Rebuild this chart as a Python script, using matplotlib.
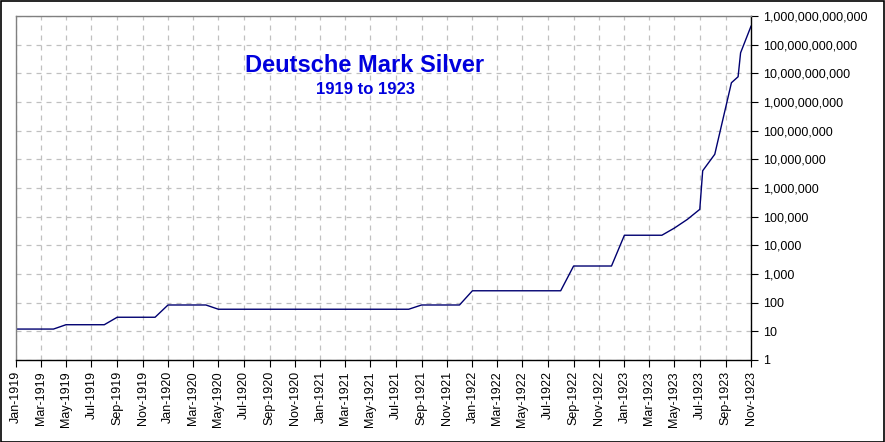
import matplotlib
matplotlib.use("Agg")
import matplotlib.pyplot as plt
import matplotlib.dates as mdates
import matplotlib.ticker as mticker
from matplotlib.patches import Rectangle
import numpy as np
import datetime as dt

plt.rcParams['font.family'] = ['Liberation Sans', 'DejaVu Sans']

# Data: date, value (paper marks per silver mark, log scale)
dates = [
    "1919-01-01", "1919-02-01", "1919-03-01", "1919-04-01", "1919-05-01", "1919-06-01",
    "1919-07-01", "1919-08-01", "1919-09-01", "1919-10-01", "1919-11-01", "1919-12-01",
    "1920-01-01", "1920-02-01", "1920-03-01", "1920-04-01", "1920-05-01", "1920-06-01",
    "1920-07-01", "1920-08-01", "1920-09-01", "1920-10-01", "1920-11-01", "1920-12-01",
    "1921-01-01", "1921-02-01", "1921-03-01", "1921-04-01", "1921-05-01", "1921-06-01",
    "1921-07-01", "1921-08-01", "1921-09-01", "1921-10-01", "1921-11-01", "1921-12-01",
    "1922-01-01", "1922-02-01", "1922-03-01", "1922-04-01", "1922-05-01", "1922-06-01",
    "1922-07-01", "1922-08-01", "1922-09-01", "1922-10-01", "1922-11-01", "1922-12-01",
    "1923-01-01", "1923-02-01", "1923-03-01", "1923-04-01", "1923-05-01", "1923-06-01",
    "1923-07-01", "1923-07-08", "1923-08-06", "1923-09-15", "1923-10-01", "1923-10-07",
    "1923-11-01",
]
values = [
    12, 12, 12, 12, 17, 17,
    17, 17, 31, 31, 31, 31,
    83, 83, 83, 83, 59, 59,
    59, 59, 59, 59, 59, 59,
    59, 59, 59, 59, 59, 59,
    59, 59, 83, 83, 83, 83,
    260, 260, 260, 260, 260, 260,
    260, 260, 1900, 1900, 1900, 1900,
    22500, 22500, 22500, 22500, 40000, 80000,
    180000, 4.0e6, 1.5e7, 4.7e9, 7.6e9, 5.2e10,
    4.4e11,
]

title = "Deutsche Mark Silver"
subtitle = "1919 to 1923"

x = [dt.datetime.strptime(d, "%Y-%m-%d") for d in dates]

fig = plt.figure(figsize=(8.85, 4.42), dpi=100)
fig.patch.set_facecolor("white")
fig.patches.append(Rectangle((0.0006, 0.001), 0.9982, 0.997, transform=fig.transFigure,
                             fill=False, edgecolor="black", linewidth=1.2))

ax = fig.add_axes([16/885, 82/442, 735/885, 344/442])
ax.plot(x, values, color="#000070", linewidth=1.0)

ax.set_yscale("log")
ax.set_ylim(1, 1e12)
ax.set_xlim(dt.datetime(1919, 1, 1), dt.datetime(1923, 11, 1))

ax.yaxis.set_major_locator(mticker.LogLocator(base=10, numticks=20))
ax.yaxis.set_minor_locator(mticker.NullLocator())
ax.yaxis.set_major_formatter(mticker.FuncFormatter(lambda v, p: f"{int(round(v)):,}"))
ax.yaxis.tick_right()
ax.tick_params(axis="y", which="major", direction="out", length=5, pad=4, labelsize=9,
               colors="black")

ax.xaxis.set_major_locator(mdates.MonthLocator(bymonth=[1, 3, 5, 7, 9, 11]))
ax.xaxis.set_major_formatter(mdates.DateFormatter("%b-%Y"))
ax.tick_params(axis="x", which="major", direction="out", length=5, pad=3, labelsize=9,
               labelrotation=90, colors="black")

ax.grid(True, which="major", color="#c0c0c0", linestyle=(0, (4, 4)), linewidth=0.9)
ax.set_axisbelow(True)

for s in ["left", "top"]:
    ax.spines[s].set_color("#808080")
    ax.spines[s].set_linewidth(1.0)
for s in ["right", "bottom"]:
    ax.spines[s].set_color("black")
    ax.spines[s].set_linewidth(1.0)

fig.text(365/885, 1 - 65/442, title, ha="center", va="center", fontsize=17,
         fontweight="bold", color="#0000DD")
fig.text(365/885, 1 - 90/442, subtitle, ha="center", va="center", fontsize=12,
         fontweight="bold", color="#0000DD")

fig.savefig("out.png", dpi=100)
